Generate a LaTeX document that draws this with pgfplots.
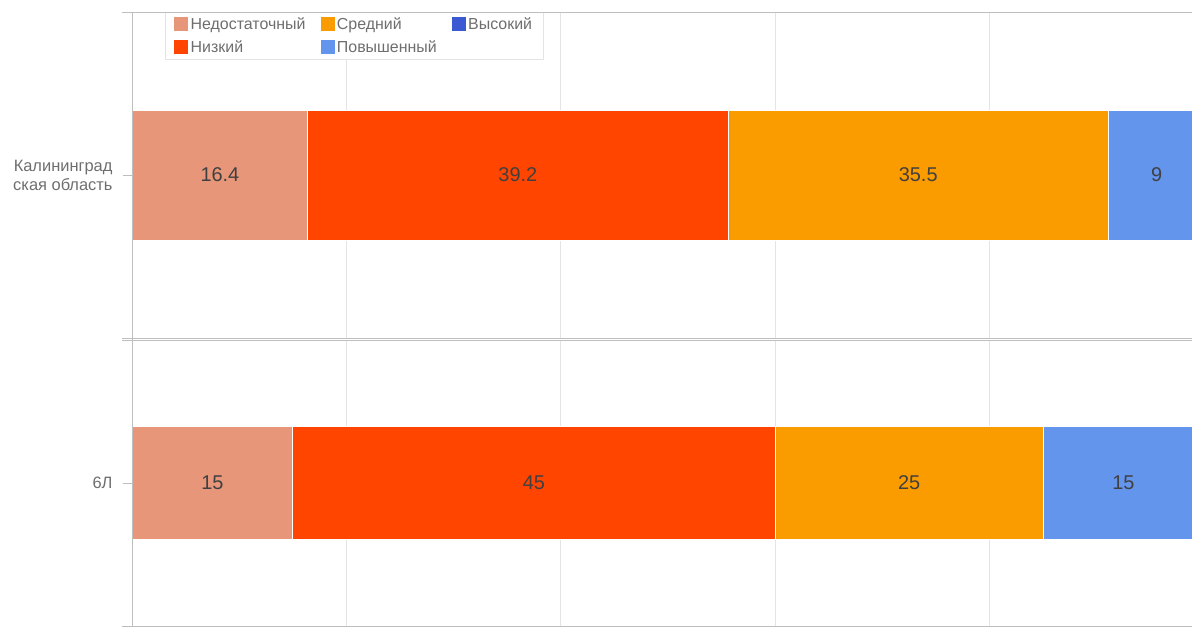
\documentclass[border=0pt]{standalone}
\usepackage{fontspec}
\setmainfont{Liberation Sans}
\usepackage{pgfplots}
\pgfplotsset{compat=1.18}
\definecolor{cNed}{RGB}{232,150,122}
\definecolor{cNiz}{RGB}{255,69,0}
\definecolor{cSr}{RGB}{250,155,0}
\definecolor{cPov}{RGB}{100,149,237}
\definecolor{cVys}{RGB}{59,89,210}
\definecolor{cGrid}{RGB}{228,228,228}
\definecolor{cAxis}{RGB}{190,190,190}
\definecolor{cTxt}{RGB}{110,110,110}
\definecolor{cLbl}{RGB}{64,64,64}
\pgfplotsset{
  mybars/.style={
    scale only axis, width=1072.9bp, xmin=0, xmax=100.1,
    ymin=-1, ymax=1,
    xbar stacked,
    axis line style={draw=none},
    xtick={0,20,40,60,80,100}, xticklabels={},
    xmajorgrids, major grid style={cGrid, line width=1bp},
    xtick style={draw=none},
    ytick={0},
    ytick style={cAxis, line width=0.8bp},
    tick align=outside, major tick length=9bp,
    yticklabel style={font=\fontsize{16.5}{19}\selectfont, text=cTxt, align=right, xshift=-7bp},
    nodes near coords,
    point meta=explicit symbolic,
    every node near coord/.append style={
      font=\fontsize{20}{22}\selectfont, text=cLbl, anchor=center},
  },
  myleg/.style={
    legend image code/.code={\fill[##1] (0bp,-6.5bp) rectangle (13bp,6.5bp);},
  }
}
\begin{document}
\begin{tikzpicture}[x=1bp,y=1bp]
\useasboundingbox (0,0) rectangle (1192,627);
% top panel
\begin{axis}[mybars, at={(132bp,289bp)}, anchor=south west, height=326bp,
  bar width=0.797,
  yticklabels={{Калининград\\ская область}},
  legend columns=3,
  legend style={at={(rel axis cs:0.0308,1)}, anchor=north west,
    draw=cGrid, fill=white, inner xsep=9bp, inner ysep=3bp,
    font=\fontsize{16}{18}\selectfont, text=cTxt,
    /tikz/every odd column/.append style={column sep=1bp},
    /tikz/every even column/.append style={column sep=13bp},
    row sep=6bp},
  legend cell align=left]
\addplot[fill=cNed, draw=white, line width=0.8bp, forget plot] coordinates {(16.4,0) [16.4]};
\addplot[fill=cNiz, draw=white, line width=0.8bp, forget plot] coordinates {(39.2,0) [39.2]};
\addplot[fill=cSr, draw=white, line width=0.8bp, forget plot] coordinates {(35.5,0) [35.5]};
\addplot[fill=cPov, draw=white, line width=0.8bp, forget plot] coordinates {(9,0) [9]};
\addlegendimage{myleg, cNed}\addlegendentry{Недостаточный}
\addlegendimage{myleg, cSr}\addlegendentry{Средний}
\addlegendimage{myleg, cVys}\addlegendentry{Высокий}
\addlegendimage{myleg, cNiz}\addlegendentry{Низкий}
\addlegendimage{myleg, cPov}\addlegendentry{Повышенный}
\end{axis}
% bottom panel
\begin{axis}[mybars, at={(132bp,1bp)}, anchor=south west, height=286bp,
  bar width=0.790,
  yticklabels={6Л}]
\addplot[fill=cNed, draw=white, line width=0.8bp] coordinates {(15,0) [15]};
\addplot[fill=cNiz, draw=white, line width=0.8bp] coordinates {(45,0) [45]};
\addplot[fill=cSr, draw=white, line width=0.8bp] coordinates {(25,0) [25]};
\addplot[fill=cPov, draw=white, line width=0.8bp] coordinates {(15,0) [15]};
\end{axis}
% frame lines
\draw[cAxis, line width=0.8bp] (122,615) -- (1192,615);
\draw[cAxis, line width=0.8bp] (122,289) -- (1192,289);
\draw[cAxis, line width=0.8bp] (122,287) -- (1192,287);
\draw[cAxis, line width=0.8bp] (122,1) -- (1192,1);
\draw[cAxis, line width=1bp] (132,1) -- (132,615);
\end{tikzpicture}
\end{document}
